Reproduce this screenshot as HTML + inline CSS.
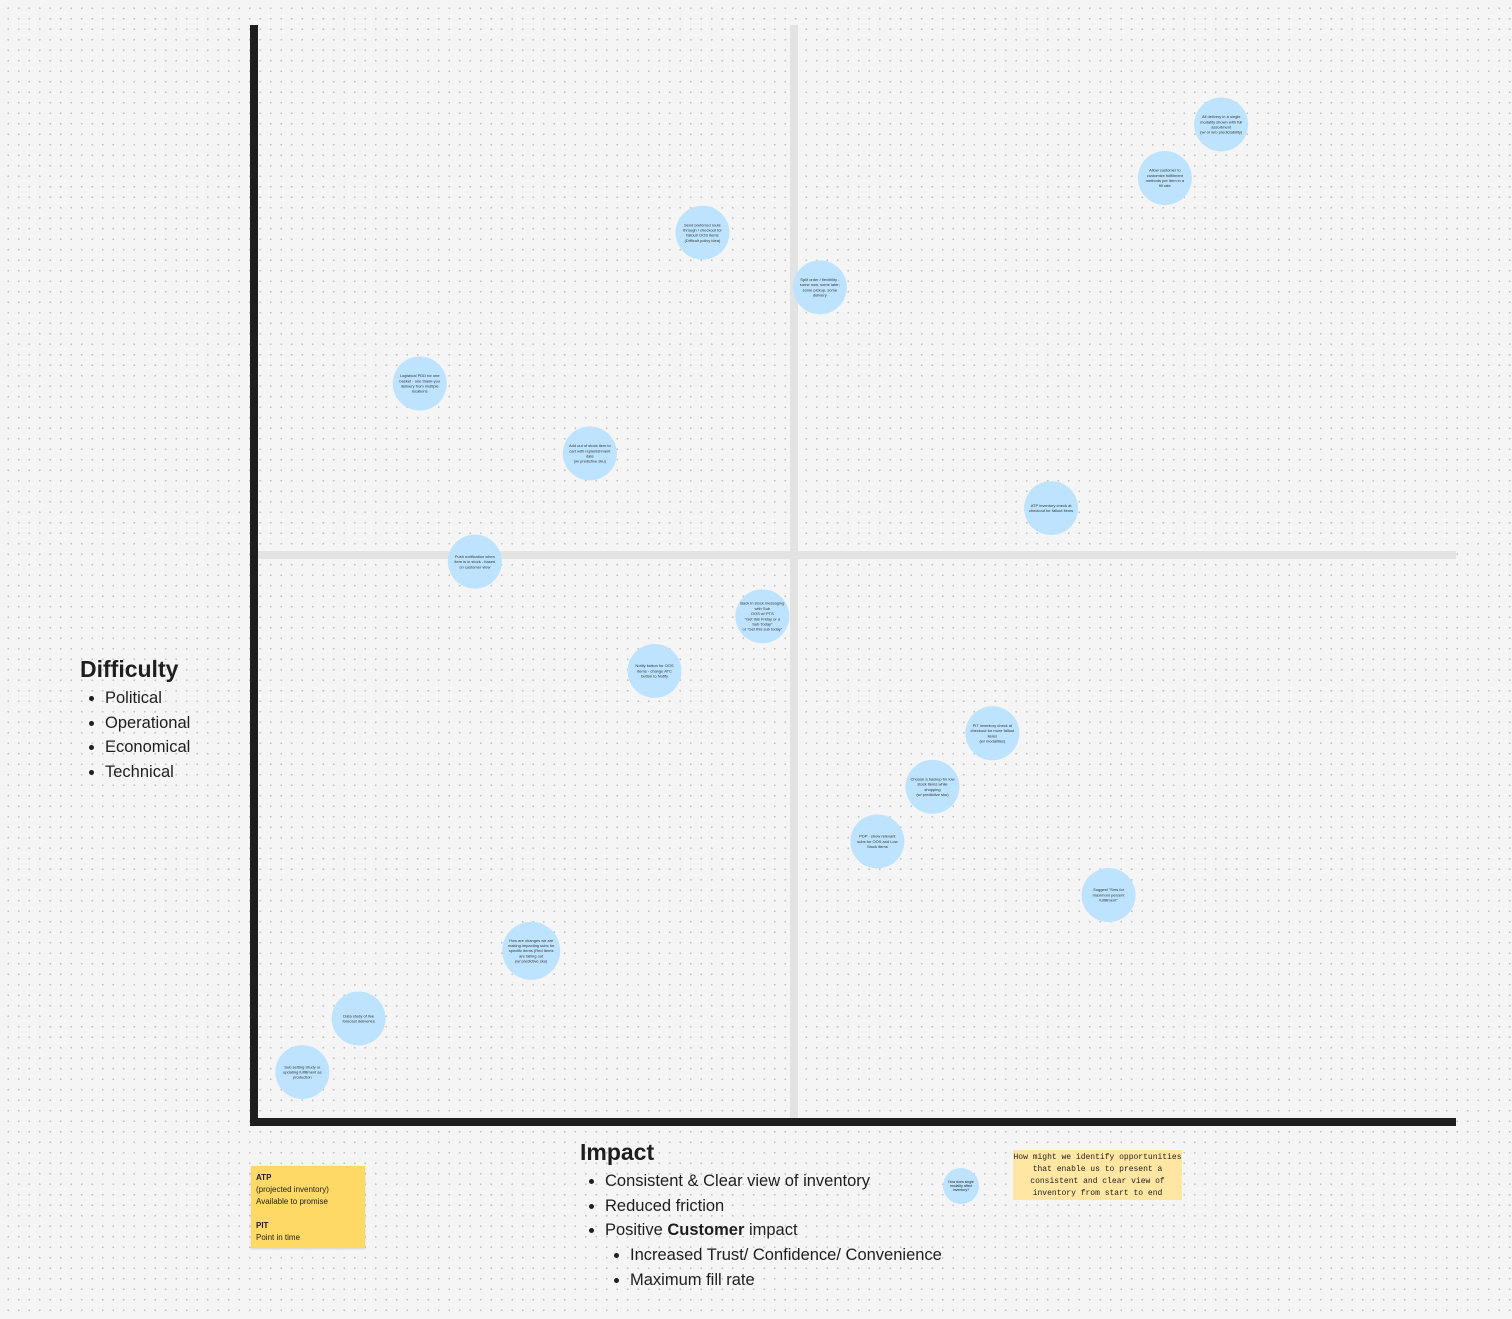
<!DOCTYPE html>
<html><head><meta charset="utf-8"><style>
html,body{margin:0;padding:0;width:1512px;height:1319px;overflow:hidden;}
body{background-color:#f5f5f5;background-image:radial-gradient(circle,#c4c4c4 0.8px,transparent 1.1px);background-size:10.5px 10.5px;background-position:3px 3px;font-family:"Liberation Sans",sans-serif;color:#1e1e1e;position:relative;}
.t{position:absolute;}
ul{margin:0;padding-left:25px;list-style-type:disc;}
ul ul{list-style-type:disc;}
li{line-height:24.7px;}
</style></head><body>
<svg id="chart" width="1512" height="1319" style="position:absolute;left:0;top:0">
<rect x="790" y="25" width="8" height="1093" fill="#e3e3e3"/>
<rect x="258" y="551" width="1198" height="8" fill="#e3e3e3"/>
<rect x="250" y="25" width="8" height="1101" fill="#1e1e1e"/>
<rect x="250" y="1118" width="1206" height="8" fill="#1e1e1e"/>
<g id="marks"></g>
</svg>

<div class="t" style="left:80px;top:656px;">
<div style="font-size:23px;font-weight:bold;">Difficulty</div>
<ul style="font-size:16.5px;padding-left:25px;margin-top:3px"><li>Political</li><li>Operational</li><li>Economical</li><li>Technical</li></ul>
</div>

<div class="t" style="left:580px;top:1139px;">
<div style="font-size:23px;font-weight:bold;">Impact</div>
<ul style="font-size:16.5px;padding-left:25px;margin-top:3px"><li>Consistent &amp; Clear view of inventory</li><li>Reduced friction</li><li>Positive <b>Customer</b> impact
<ul><li>Increased Trust/ Confidence/ Convenience</li><li>Maximum fill rate</li></ul></li></ul>
</div>

<div class="t" style="left:251px;top:1166px;width:114px;height:82px;background:#ffd966;box-shadow:0 1px 2px rgba(0,0,0,.15);font-size:8px;line-height:12px;padding:6px 5px;box-sizing:border-box;">
<b>ATP</b><br>(projected inventory)<br>Available to promise<br><br><b>PIT</b><br>Point in time</div>

<div class="t" style="left:1013px;top:1150px;width:169px;height:50px;background:#ffe6a3;font-family:'Liberation Mono',monospace;font-size:8px;line-height:12px;text-align:center;padding-top:2px;box-sizing:border-box;">How might we identify opportunities<br>that enable us to present a<br>consistent and clear view of<br>inventory from start to end</div>

<div class="t" style="left:943px;top:1168px;width:36px;height:36px;border-radius:50%;background:#bde3ff;font-size:3.5px;text-align:center;display:flex;align-items:center;justify-content:center;">How does single<br>modality affect<br>inventory?</div>

<script>
const impact = [80.4, 75.7, 37.1, 46.9, 13.5, 27.7, 66.2, 18.1, 42.1, 33.1, 61.3, 56.3, 51.7, 71.0, 22.8, 8.4, 3.7];
const difficulty = [90.9, 86.0, 81.0, 76.0, 67.2, 60.8, 55.8, 50.9, 45.9, 40.9, 35.2, 30.3, 25.3, 20.4, 15.3, 9.1, 4.2];
const labels = [
 "All delivery in a single|modality shown with full|assortment|(w/ or w/o predictability)",
 "Allow customer to|customize fulfillment|methods per item in a|fill rate",
 "Send preferred route|through / checkout for|fallout/ OOS items|(Difficult policy idea)",
 "Split order / flexibility -|some now, some later;|some pickup, some|delivery",
 "Logistical PDD for one|basket - one thank-you|delivery from multiple|locations",
 "Add out of stock item to|cart with replenishment|date|(w/ predictive sku)",
 "ATP inventory check at|checkout for fallout items",
 "Push notification when|item is in stock - based|on customer view",
 "Back in stock messaging|with Sub|OOS w/ PTS|\"Get this Friday or a|Sub Today\"|or \"Get this sub today\"",
 "Notify button for OOS|items - change ATC|button to Notify",
 "PIT inventory check at|checkout for more fallout|items|(w/ modalities)",
 "Choose a backup for low|stock items while|shopping|(w/ predictive sku)",
 "PDP - show relevant|subs for OOS and Low|Stock items",
 "Suggest \"Sms for|maximum percent|fulfillment\"",
 "How are changes we are|making impacting subs for|specific items (Red Items|are falling out|(w/ predictive sku)",
 "Data study of live|forecast deliveries",
 "Sub setting Study or|updating fulfillment as|production"
];
const X0=258, X1=1456, Y0=1118, Y1=25;
function xScale(v){return X0+(X1-X0)*v/100;}
function yScale(v){return Y0-(Y0-Y1)*v/100;}
const g=document.getElementById('marks');
const NS="http://www.w3.org/2000/svg";
for(let i=0;i<impact.length;i++){
  const cx=xScale(impact[i]), cy=yScale(difficulty[i]);
  const grp=document.createElementNS(NS,'g');
  
  
  const c=document.createElementNS(NS,'circle');
  c.setAttribute('cx',cx);c.setAttribute('cy',cy);c.setAttribute('r',i===14?29:27);
  c.setAttribute('fill','#bde3ff');
  
  
  grp.appendChild(c);
  const lines=labels[i].split('|');
  const t=document.createElementNS(NS,'text');
  
  
  t.setAttribute('font-size','4');t.setAttribute('text-anchor','middle');t.setAttribute('fill','#333');
  t.setAttribute('font-family','Liberation Sans, sans-serif');
  lines.forEach((ln,k)=>{const s=document.createElementNS(NS,'tspan');s.setAttribute('x',cx);s.setAttribute('y',cy-(lines.length-1)*2.6+k*5.2+1.4);s.textContent=ln;t.appendChild(s);});
  grp.appendChild(t);
  g.appendChild(grp);
}
</script>
</body></html>
